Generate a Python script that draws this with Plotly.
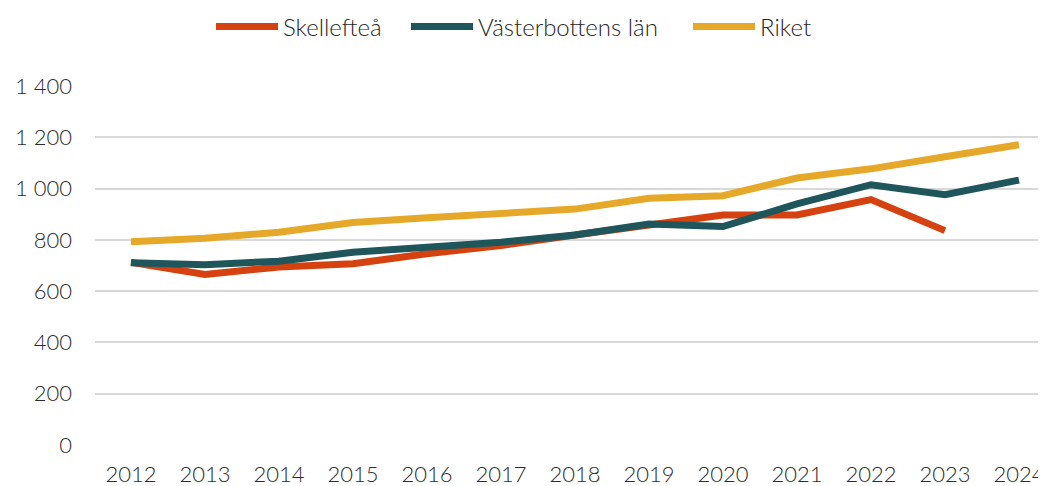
import plotly.graph_objects as go

years = [str(y) for y in range(2012, 2025)]
skelleftea = [712, 665, 694, 707, 746, 778, 819, 858, 897, 897, 957, 836, None]
vasterbotten = [711, 703, 717, 752, 771, 791, 819, 862, 852, 940, 1015, 976, 1033]
riket = [793, 806, 830, 868, 886, 903, 920, 962, 972, 1041, 1077, 1124, 1171]

y_ticks = [0, 200, 400, 600, 800, 1000, 1200, 1400]
y_labels = ["0", "200", "400", "600", "800", "1 000", "1 200", "1 400"]

series = [
    ("Skellefteå", skelleftea, "#D5410F", "legend"),
    ("Västerbottens län", vasterbotten, "#1F565C", "legend2"),
    ("Riket", riket, "#E6A829", "legend3"),
]

fig = go.Figure()
for name, vals, col, lg in series:
    fig.add_trace(go.Scatter(x=years, y=vals, name=name, mode="lines", legend=lg,
                             showlegend=True,
                             line=dict(color=col, width=7), connectgaps=False))

font = "Lato"
L, T, B, W, H = 87, 78, 41, 1038, 478
pw = W - L
ph = H - T - B
leg_y = 1 + (T - 19) / ph


def leg(px):
    return dict(orientation="h", x=(px - 5 - L) / pw, xanchor="left", y=leg_y,
                yanchor="middle", font=dict(size=24, color="#262626", weight=300),
                itemwidth=62, bgcolor="rgba(0,0,0,0)", borderwidth=0, visible=True)


fig.update_layout(
    width=W, height=H, showlegend=True,
    margin=dict(l=L, r=0, t=T, b=B, autoexpand=False),
    paper_bgcolor="white", plot_bgcolor="white",
    font=dict(family=font, size=22, color="#2B2B2B", weight=300),
    legend=leg(208), legend2=leg(403), legend3=leg(685),
    xaxis=dict(type="category", range=[-0.486, 12.365], showgrid=False,
               showline=False, zeroline=False, ticks="", ticklabelstandoff=14,
               automargin=False, tickfont=dict(size=22)),
    yaxis=dict(range=[0, 1400], tickvals=y_ticks, ticktext=y_labels,
               gridcolor="#D9D9D9", gridwidth=1.5, zeroline=False,
               showline=False, ticks="", ticklabelstandoff=22,
               automargin=False, tickfont=dict(size=22)),
)
fig.write_html("out.html")
